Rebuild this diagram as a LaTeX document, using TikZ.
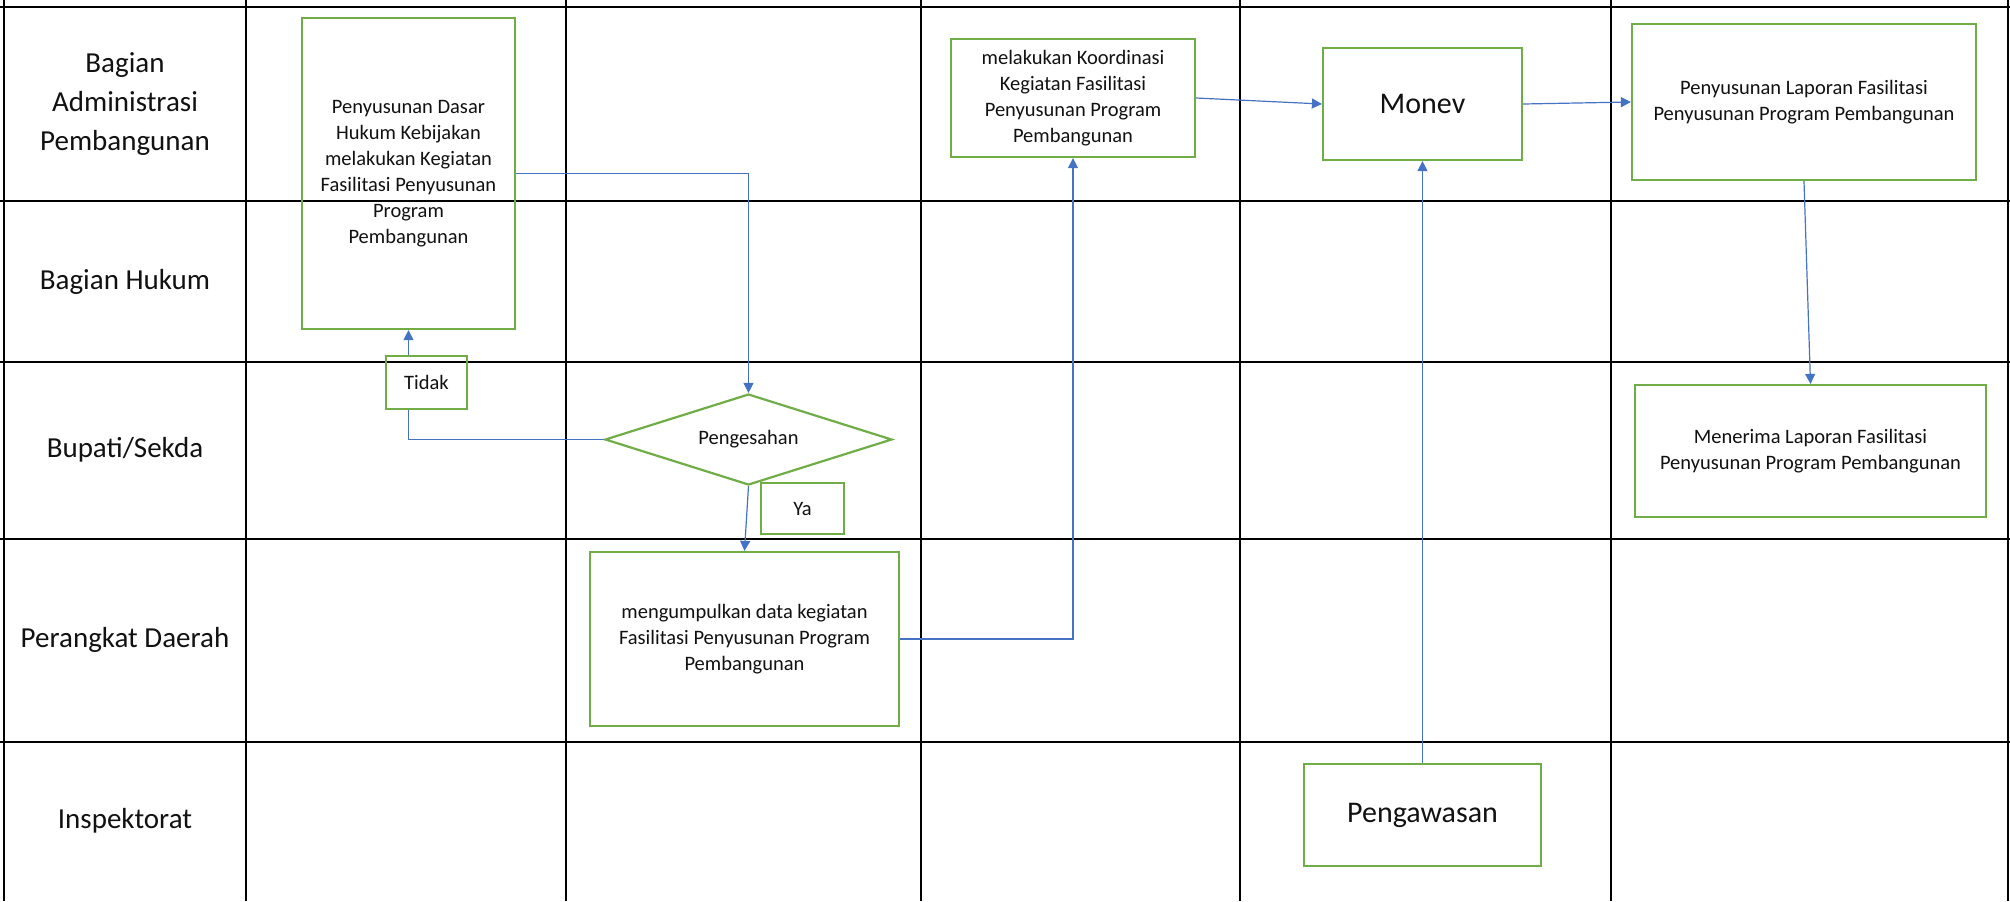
\documentclass[tikz,border=0pt]{standalone}
\usepackage{fontspec}
\setmainfont{Carlito}
\usetikzlibrary{arrows.meta,shapes.geometric}
\definecolor{BoxGreen}{HTML}{70AD47}
\definecolor{FlowBlue}{HTML}{4472C4}
\definecolor{Ink}{HTML}{111111}

\begin{document}
\begin{tikzpicture}[x=0.5pt,y=-0.5pt,>={Triangle[length=5pt,width=5pt]},
  task/.style={rectangle,draw=BoxGreen,line width=1.1pt,align=center,inner sep=0pt,
    text=Ink,font=\fontsize{10.25}{13}\selectfont},
  bigtask/.style={task,font=\fontsize{15}{18}\selectfont},
  decision/.style={diamond,aspect=3.15,draw=BoxGreen,line width=1.1pt,inner sep=0pt,
    minimum width=143.5pt,minimum height=45.5pt,text=Ink,font=\fontsize{10.25}{13}\selectfont},
  tag/.style={task},
  lane/.style={align=center,text=Ink,font=\fontsize{14.5}{19.5}\selectfont},
  grid/.style={line width=1.3pt,black},
  flow/.style={->,line width=0.6pt,FlowBlue},
  link/.style={line width=0.6pt,FlowBlue}]
  \useasboundingbox (0,0) rectangle (2010,901);
  % swimlane table
  \foreach \xpos in {4,246,566,921,1240,1611,2008}
    \draw[grid] (\xpos,0) -- (\xpos,901);
  \foreach \ypos in {7,201,362,539,742}
    \draw[grid] (0,\ypos) -- (2010,\ypos);
  \foreach \name/\ypos/\txt in {adm/104/{Bagian\\Administrasi\\Pembangunan},hukum/281.5/{Bagian Hukum},
    bupati/450/{Bupati/Sekda},pd/640/{Perangkat Daerah},insp/821/{Inspektorat}}
    \node[lane] (lane\name) at (125,\ypos) {\txt};
  % process boxes
  \node[task,minimum width=106.5pt,minimum height=155.5pt] (dasar) at (408.5,173.5)
    {Penyusunan Dasar\\Hukum Kebijakan\\melakukan Kegiatan\\Fasilitasi Penyusunan\\Program\\Pembangunan};
  \node[tag,minimum width=40.5pt,minimum height=26.5pt] (tidak) at (426.5,382.5) {Tidak};
  \node[decision] (sah) at (748.5,439.5) {Pengesahan};
  \node[tag,minimum width=41.5pt,minimum height=25.5pt] (ya) at (802.5,508.5) {Ya};
  \node[task,minimum width=154.5pt,minimum height=87pt] (kumpul) at (744.5,639)
    {mengumpulkan data kegiatan\\Fasilitasi Penyusunan Program\\Pembangunan};
  \node[task,minimum width=122pt,minimum height=59pt] (koord) at (1073,98)
    {melakukan Koordinasi\\Kegiatan Fasilitasi\\Penyusunan Program\\Pembangunan};
  \node[bigtask,minimum width=99.5pt,minimum height=56pt] (monev) at (1422.5,104) {Monev};
  \node[bigtask,minimum width=118.5pt,minimum height=51pt] (awas) at (1422.5,815) {Pengawasan};
  \node[task,minimum width=172pt,minimum height=78pt] (lapor) at (1804,102)
    {Penyusunan Laporan Fasilitasi\\Penyusunan Program Pembangunan};
  \node[task,minimum width=175.5pt,minimum height=66pt] (terima) at (1810.5,451)
    {Menerima Laporan Fasilitasi\\Penyusunan Program Pembangunan};
  % connectors
  \draw[flow] (dasar.east) -| (sah.north);
  \draw[link] (sah.west) -| (tidak.south -| dasar.south);
  \draw[flow] (tidak.north -| dasar.south) -- (dasar.south);
  \draw[flow] (sah.south) -- (kumpul.north);
  \draw[flow] (kumpul.east) -| (koord.south);
  \draw[flow] (koord.east) -- (monev.west);
  \draw[flow] (monev.east) -- (lapor.west);
  \draw[flow] (lapor.south) -- (terima.north);
  \draw[flow] (awas.north) -- (monev.south);
\end{tikzpicture}
\end{document}
